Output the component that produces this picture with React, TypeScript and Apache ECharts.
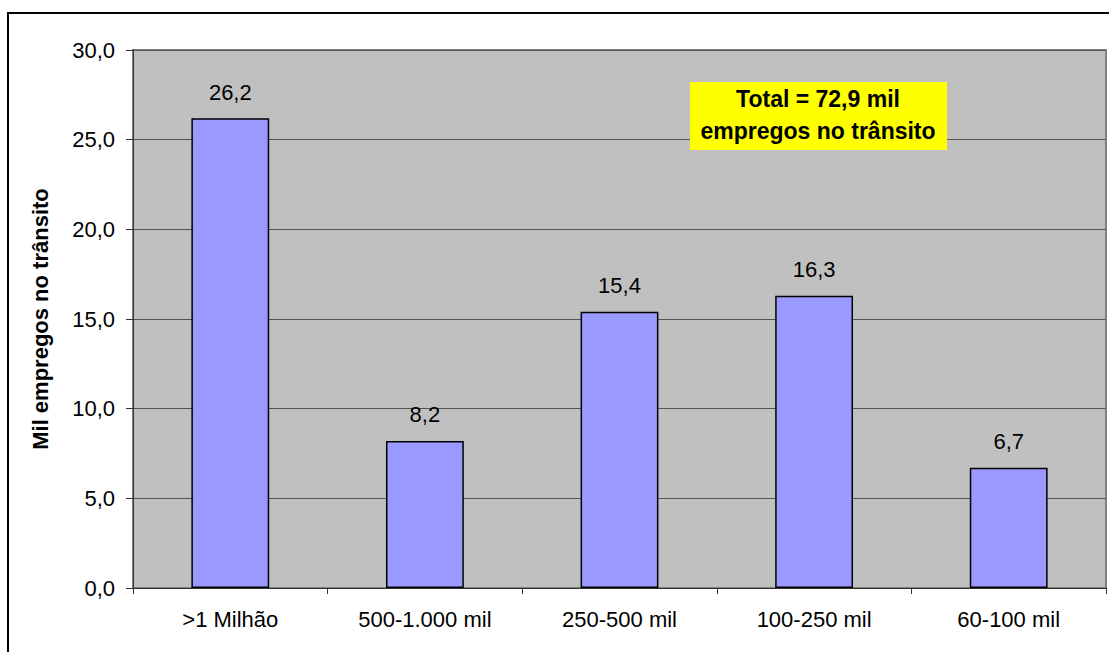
import React, { useEffect, useRef } from "react";
import * as echarts from "echarts";

const categories = [">1 Milhão", "500-1.000 mil", "250-500 mil", "100-250 mil", "60-100 mil"];
const values = [26.2, 8.2, 15.4, 16.3, 6.7];
const yAxisTitle = "Mil empregos no trânsito";
const noteLines = ["Total = 72,9 mil", "empregos no trânsito"];

const fmt = (v: number) => v.toFixed(1).replace(".", ",");
const FONT = "'Liberation Sans', Arial, sans-serif";

export default function App() {
  const ref = useRef<HTMLDivElement>(null);
  useEffect(() => {
    if (!ref.current) return;
    const chart = echarts.init(ref.current, undefined, { renderer: "svg" });
    chart.setOption({
      animation: false,
      backgroundColor: "#ffffff",
      textStyle: { fontFamily: FONT },
      grid: {
        left: 133,
        top: 50,
        right: 3,
        bottom: 64,
        show: true,
        backgroundColor: "#c0c0c0",
        borderColor: "#808080",
        borderWidth: 2,
      },
      xAxis: {
        type: "category",
        data: categories,
        axisLine: { show: true, lineStyle: { color: "#333333", width: 1 } },
        axisTick: { show: true, alignWithLabel: false, length: 6, lineStyle: { color: "#333333" } },
        axisLabel: { color: "#000000", fontSize: 22, fontFamily: FONT, margin: 20 },
      },
      yAxis: {
        type: "value",
        min: 0,
        max: 30,
        interval: 5,
        name: yAxisTitle,
        nameLocation: "middle",
        nameGap: 82,
        nameTextStyle: { color: "#000000", fontSize: 22, fontWeight: "bold", fontFamily: FONT },
        axisLine: { show: true, lineStyle: { color: "#333333", width: 1 } },
        axisTick: { show: true, length: 7, lineStyle: { color: "#333333" } },
        axisLabel: { color: "#000000", fontSize: 22, fontFamily: FONT, margin: 18, formatter: (v: number) => fmt(v) },
        splitLine: { show: true, lineStyle: { color: "#555555", width: 1 } },
      },
      series: [
        {
          type: "bar",
          data: values,
          barWidth: "40%",
          itemStyle: { color: "#9999ff", borderColor: "#000000", borderWidth: 1.5 },
          label: {
            show: true,
            position: "top",
            distance: 15,
            color: "#000000",
            fontSize: 22,
            fontFamily: FONT,
            formatter: (p: any) => fmt(p.value),
          },
        },
      ],
      graphic: [
        {
          type: "rect",
          shape: { x: 8, y: 13, width: 1120, height: 700 },
          style: { fill: "none", stroke: "#000000", lineWidth: 2 },
          silent: true,
          z: 100,
        },
        {
          type: "rect",
          shape: { x: 690, y: 82, width: 257, height: 68 },
          style: { fill: "#ffff00", stroke: "none" },
          z: 100,
        },
        {
          type: "text",
          x: 818,
          y: 99,
          style: {
            text: noteLines[0],
            font: `bold 23px ${FONT}`,
            fill: "#000000",
            align: "center",
            verticalAlign: "middle",
          },
          z: 101,
        },
        {
          type: "text",
          x: 818,
          y: 131,
          style: {
            text: noteLines[1],
            font: `bold 23px ${FONT}`,
            fill: "#000000",
            align: "center",
            verticalAlign: "middle",
          },
          z: 101,
        },
      ],
    });
    return () => chart.dispose();
  }, []);
  return (
    <div
      ref={ref}
      style={{ position: "fixed", left: 0, top: 0, width: 1109, height: 652, background: "#fff" }}
    />
  );
}
